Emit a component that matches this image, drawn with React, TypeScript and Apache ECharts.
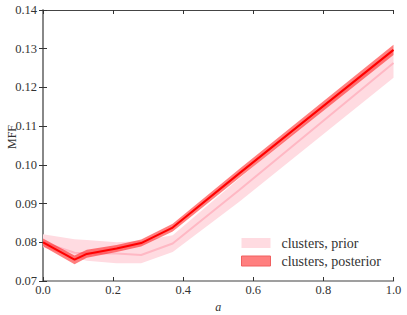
import React, { useEffect, useRef } from "react";
import * as echarts from "echarts";

const aValues = [0, 0.09, 0.125, 0.21, 0.28, 0.37, 0.56, 1.0];
const postMean = [0.08, 0.0755, 0.077, 0.0784, 0.0798, 0.0838, 0.0978, 0.1297];
const postLo = [0.079, 0.0743, 0.076, 0.0775, 0.0789, 0.0828, 0.0967, 0.1284];
const postHi = [0.081, 0.0766, 0.0781, 0.0793, 0.0807, 0.0848, 0.0989, 0.131];
const priorMean = [0.08, 0.0773, 0.0772, 0.0771, 0.0767, 0.0797, 0.0935, 0.1263];
const priorLo = [0.0787, 0.076, 0.0752, 0.0746, 0.0746, 0.0775, 0.0905, 0.1225];
const priorHi = [0.0821, 0.0808, 0.0806, 0.08, 0.0803, 0.0818, 0.0965, 0.13];

const xTicks = { min: 0, max: 1, interval: 0.2 };
const yTicks = { min: 0.07, max: 0.14, interval: 0.01 };

const FONT = "Liberation Serif";
const TEXT = "#333";

const PRIOR_FILL = "#ffdbe1";
const POST_FILL = "rgba(255,0,0,0.5)";

export default function App() {
  const ref = useRef<HTMLDivElement>(null);
  useEffect(() => {
    if (!ref.current) return;
    const chart = echarts.init(ref.current, undefined, { renderer: "svg" });
    const pair = (ys: number[]) => aValues.map((x, i) => [x, ys[i]]);
    const bandData = (lo: number[], hi: number[]) => aValues.map((x, i) => [x, lo[i], hi[i]]);
    const bandRender = (lo: number[], hi: number[], fill: string) => (params: any, api: any) => {
      if (params.dataIndex !== 0) return null;
      const upper = aValues.map((x, i) => api.coord([x, hi[i]]));
      const lower = aValues.map((x, i) => api.coord([x, lo[i]])).reverse();
      return {
        type: "polygon",
        shape: { points: upper.concat(lower) },
        style: { fill },
        silent: true,
      };
    };
    const axisLine = { show: true, lineStyle: { color: "#808080", width: 1.5 } };
    const tick = { show: true, inside: true, length: 4, lineStyle: { color: "#333" } };
    chart.setOption({
      animation: false,
      textStyle: { fontFamily: FONT },
      grid: {
        left: 43,
        right: 13.5,
        top: 10,
        bottom: 34,
        containLabel: false,
        outerBoundsMode: "none",
      },
      graphic: [
        {
          type: "text",
          x: 12,
          y: 137,
          rotation: Math.PI / 2,
          style: {
            text: "MFF",
            fill: TEXT,
            font: `12px ${FONT}`,
            fontFamily: FONT,
            fontSize: 12,
            align: "center",
            verticalAlign: "middle",
          },
        },
      ],
      xAxis: [
        {
          type: "value",
          ...xTicks,
          axisLine,
          axisTick: tick,
          splitLine: { show: false },
          axisLabel: {
            color: TEXT,
            fontFamily: FONT,
            fontSize: 12.5,
            margin: 2,
            formatter: (v: number) => v.toFixed(1),
          },
          name: "a",
          nameLocation: "middle",
          nameGap: 17,
          nameTextStyle: { color: TEXT, fontFamily: FONT, fontSize: 12, fontStyle: "italic" },
        },
        {
          type: "value",
          position: "top",
          ...xTicks,
          axisLine: { show: true, lineStyle: { color: "#444", width: 1 } },
          axisTick: tick,
          splitLine: { show: false },
          axisLabel: { show: false },
        },
      ],
      yAxis: [
        {
          type: "value",
          ...yTicks,
          axisLine,
          axisTick: tick,
          splitLine: { show: false },
          axisLabel: {
            color: TEXT,
            fontFamily: FONT,
            fontSize: 12.5,
            margin: 6,
            formatter: (v: number) => v.toFixed(2),
          },
        },
        {
          type: "value",
          position: "right",
          ...yTicks,
          axisLine,
          axisTick: tick,
          splitLine: { show: false },
          axisLabel: { show: false },
        },
      ],
      legend: {
        orient: "vertical",
        left: 236,
        top: 231,
        icon: "rect",
        itemWidth: 29,
        itemHeight: 10,
        itemGap: 4,
        textStyle: { color: TEXT, fontFamily: FONT, fontSize: 14, padding: [0, 0, 0, 6] },
        data: [
          { name: "clusters, prior", itemStyle: { color: PRIOR_FILL, borderWidth: 0 } },
          {
            name: "clusters, posterior",
            itemStyle: { color: POST_FILL, borderColor: "#f06060", borderWidth: 1 },
          },
        ],
      },
      series: [
        {
          name: "clusters, prior",
          type: "custom",
          data: bandData(priorLo, priorHi),
          encode: { x: 0, y: [1, 2] },
          renderItem: bandRender(priorLo, priorHi, PRIOR_FILL),
          itemStyle: { color: PRIOR_FILL },
          silent: true,
          z: 1,
        },
        {
          name: "prior_mean",
          type: "line",
          data: pair(priorMean),
          showSymbol: false,
          symbol: "none",
          lineStyle: { width: 2, color: "#ffb8c4" },
          z: 2,
        },
        {
          name: "clusters, posterior",
          type: "custom",
          data: bandData(postLo, postHi),
          encode: { x: 0, y: [1, 2] },
          renderItem: bandRender(postLo, postHi, POST_FILL),
          itemStyle: { color: POST_FILL },
          silent: true,
          z: 3,
        },
        {
          name: "post_mean",
          type: "line",
          data: pair(postMean),
          showSymbol: false,
          symbol: "none",
          lineStyle: { width: 2, color: "#ff0000" },
          z: 4,
        },
      ],
    });
    return () => chart.dispose();
  }, []);
  return <div ref={ref} style={{ width: 407, height: 315, position: "absolute", left: 0, top: 0 }} />;
}
